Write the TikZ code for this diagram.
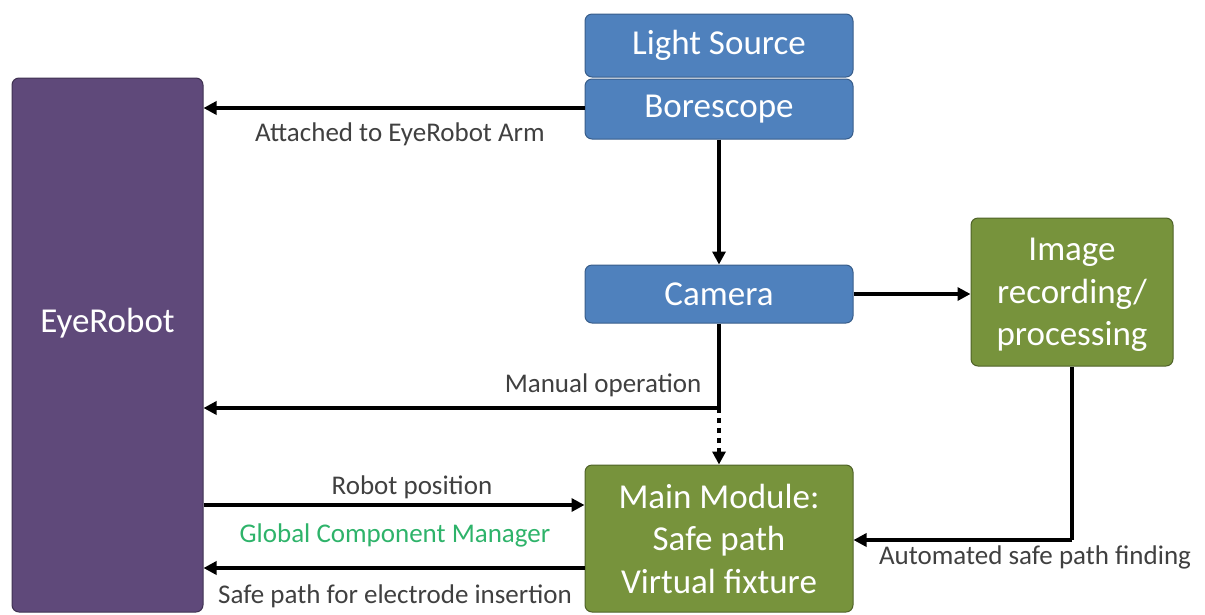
\documentclass[tikz,border=0pt]{standalone}
\usepackage{fontspec}
\setmainfont{Carlito}
\usetikzlibrary{arrows.meta}
\definecolor{bblue}{HTML}{4F81BD}
\definecolor{bblueD}{HTML}{385D8A}
\definecolor{bgreen}{HTML}{77933C}
\definecolor{bgreenD}{HTML}{4F6228}
\definecolor{bpurple}{HTML}{5F497A}
\definecolor{bpurpleD}{HTML}{3F3151}
\definecolor{lbl}{HTML}{404040}
\definecolor{gcm}{HTML}{2EB36A}
\tikzset{
  box/.style={draw, line width=1pt, rounded corners=7pt, text=white, align=center, font=\fontsize{35}{42.5}\selectfont, inner sep=0pt},
  boxtext/.style={text=white, align=center, font=\fontsize{35}{42.5}\selectfont, inner sep=0pt},
  bluebox/.style={box, fill=bblue, draw=bblueD},
  greenbox/.style={box, fill=bgreen, draw=bgreenD},
  purplebox/.style={box, fill=bpurple, draw=bpurpleD},
  conn/.style={line width=3.5pt, -{Triangle[length=13pt,width=13pt]}},
  lab/.style={text=lbl, font=\fontsize{27}{32}\selectfont, inner sep=0pt},
}
\begin{document}
\begin{tikzpicture}[x=1pt,y=-1pt]
\useasboundingbox (0,0) rectangle (1205,614);
\node[purplebox, minimum width=191pt, minimum height=534pt] (robot) at (107.5,345) {};
\node[boxtext] (robott) at (107.5,323) {EyeRobot};
\node[bluebox, minimum width=268pt, minimum height=63pt] (light) at (719,45.5) {Light Source};
\node[bluebox, minimum width=268pt, minimum height=60pt] (bore) at (719,109) {Borescope};
\node[bluebox, minimum width=268pt, minimum height=58pt] (cam) at (719,294) {Camera};
\node[greenbox, minimum width=202pt, minimum height=148pt] (img) at (1072,292) {};
\node[boxtext] (imgt) at (1072,295) {Image\\recording/\\processing};
\node[greenbox, minimum width=268pt, minimum height=147pt] (main) at (719,538.5) {Main Module:\\Safe path\\Virtual fixture};

\coordinate (j1) at (719,408);
\coordinate (j2) at (1072,540);

\draw[conn] (bore.west |- 0,108) -- (robot.east |- 0,108);
\draw[conn] (bore.south) -- (cam.north);
\draw[conn] (cam.east) -- (img.west |- cam.east);
\draw[line width=3.5pt] (cam.south) -- (j1);
\draw[conn] (j1) -- (robot.east |- j1);
\draw[line width=3.5pt, dash pattern=on 5pt off 5pt, -{Triangle[length=13pt,width=13pt]}] (j1) -- (main.north);
\draw[conn] (robot.east |- 0,505) -- (main.west |- 0,505);
\draw[conn] (main.west |- 0,568) -- (robot.east |- 0,568);
\draw[line width=3.5pt] (img.south) -- (j2);
\draw[conn] (j2) -- (main.east |- j2);

\node[lab] (l1) at (400,134) {Attached to EyeRobot Arm};
\node[lab] (l2) at (603,385) {Manual operation};
\node[lab] (l3) at (412,487) {Robot position};
\node[lab, text=gcm] (l4) at (395,535) {Global Component Manager};
\node[lab] (l5) at (395,596) {Safe path for electrode insertion};
\node[lab] (l6) at (1035,557) {Automated safe path finding};
\end{tikzpicture}
\end{document}
